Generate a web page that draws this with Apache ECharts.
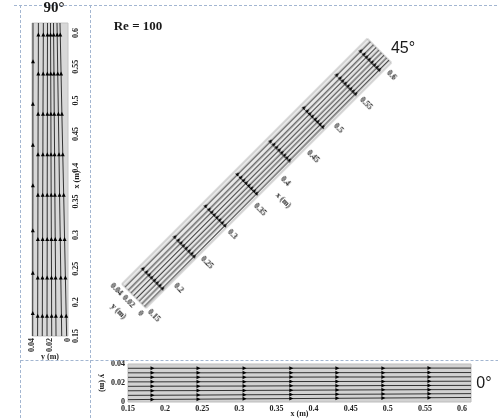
<!DOCTYPE html>
<html><head><meta charset="utf-8">
<script src="https://cdn.jsdelivr.net/npm/echarts@6/dist/echarts.min.js"></script>
<style>
html,body{margin:0;padding:0;background:#fff;width:498px;height:419px;overflow:hidden;}
#main{position:absolute;left:0;top:0;width:498px;height:419px;}
#p45{position:absolute;width:420px;height:120px;left:47px;top:113px;transform:rotate(-45deg);}
</style></head><body>
<div id="main"></div><div id="p45"></div>
<script>
// tick labels
const xTicks = [0.15,0.2,0.25,0.3,0.35,0.4,0.45,0.5,0.55,0.6];
const yTicks = [0,0.02,0.04];

// 0° panel: x stations (m) and streamline y (m)
const x0 = [0.15,0.183,0.245,0.307,0.37,0.432,0.494,0.556,0.612];
const arrows0 = [1,2,3,4,5,6,7];
const y0Lines = [
  [0.0025,0.0027,0.0030,0.0033,0.0036,0.0039,0.0042,0.0045,0.0048],
  [0.0070,0.0071,0.0073,0.0076,0.0078,0.0081,0.0083,0.0086,0.0088],
  [0.0118,0.0119,0.0120,0.0122,0.0124,0.0126,0.0128,0.0130,0.0131],
  [0.0165,0.0166,0.0167,0.0168,0.0170,0.0171,0.0173,0.0174,0.0175],
  [0.0212,0.0212,0.0213,0.0214,0.0215,0.0216,0.0217,0.0218,0.0219],
  [0.0260,0.0260,0.0261,0.0261,0.0262,0.0263,0.0263,0.0264,0.0265],
  [0.0307,0.0307,0.0307,0.0308,0.0308,0.0309,0.0309,0.0310,0.0310],
  [0.0355,0.0355,0.0355,0.0355,0.0356,0.0356,0.0356,0.0357,0.0357]
];

// 90° panel
const x90a = [0.15,0.18,0.237,0.294,0.36,0.42,0.48,0.54,0.598,0.615];
const arrows90a = [1,2,3,4,5,6,7,8];
const y90Lines = [
  [0.0015,0.0020,0.0029,0.0038,0.0048,0.0058,0.0068,0.0077,0.0086,0.0089],
  [0.0070,0.0073,0.0080,0.0086,0.0094,0.0100,0.0107,0.0114,0.0120,0.0122],
  [0.0133,0.0135,0.0138,0.0142,0.0146,0.0149,0.0153,0.0156,0.0160,0.0161],
  [0.0181,0.0182,0.0183,0.0185,0.0187,0.0189,0.0190,0.0192,0.0194,0.0194],
  [0.0233,0.0233,0.0232,0.0231,0.0231,0.0230,0.0229,0.0229,0.0228,0.0228],
  [0.0286,0.0285,0.0284,0.0282,0.0281,0.0279,0.0278,0.0276,0.0274,0.0274],
  [0.0338,0.0337,0.0336,0.0335,0.0334,0.0333,0.0332,0.0330,0.0329,0.0329]
];
const x90b = [0.15,0.184,0.244,0.307,0.374,0.434,0.495,0.558,0.615];
const arrows90b = [1,2,3,4,5,6,7];
const y90Outer = [0.0392,0.0392,0.0391,0.0391,0.0390,0.0390,0.0390,0.0389,0.0389];

// 45° panel
const x45 = [0.15,0.185,0.245,0.303,0.363,0.425,0.488,0.55,0.595,0.612];
const arrows45 = [1,2,3,4,5,6,7,8];
const y45Lines = [
  [0.0025,0.0026,0.0028,0.0030,0.0032,0.0034,0.0036,0.0038,0.0040,0.0040],
  [0.0070,0.0071,0.0072,0.0073,0.0075,0.0076,0.0078,0.0079,0.0080,0.0081],
  [0.0115,0.0115,0.0116,0.0117,0.0118,0.0119,0.0120,0.0121,0.0122,0.0122],
  [0.0160,0.0160,0.0161,0.0161,0.0162,0.0163,0.0163,0.0164,0.0165,0.0165],
  [0.0205,0.0205,0.0206,0.0206,0.0207,0.0207,0.0208,0.0208,0.0209,0.0209],
  [0.0250,0.0250,0.0250,0.0251,0.0251,0.0251,0.0252,0.0252,0.0252,0.0252],
  [0.0295,0.0295,0.0295,0.0295,0.0296,0.0296,0.0296,0.0296,0.0296,0.0296],
  [0.0350,0.0350,0.0350,0.0350,0.0350,0.0350,0.0350,0.0350,0.0350,0.0350]
];

const fmt = v => String(Math.round(v*1000)/1000);
const serif = 'Liberation Serif';
const lblStyle = {fontSize:8, fontWeight:'bold', fontFamily:serif, color:'#222'};
const lineColor = '#333333';

function streamSeries(xs, ys, arrowIdx, rot, xi, yi, swap) {
  const data = xs.map((x, i) => {
    const item = {value: swap ? [ys[i], x] : [x, ys[i]]};
    if (arrowIdx.includes(i)) {
      item.symbol = 'triangle'; item.symbolSize = [4, 4]; item.symbolRotate = rot;
    } else { item.symbol = 'none'; }
    return item;
  });
  return {type:'line', xAxisIndex:xi, yAxisIndex:yi, data, showSymbol:true, showAllSymbol:true,
    symbol:'none', lineStyle:{color:lineColor, width:1}, itemStyle:{color:'#000', borderWidth:0},
    silent:true, animation:false, z:3};
}
const hidden = {axisLine:{show:false}, axisTick:{show:false}, splitLine:{show:false}, nameMoveOverlap:false};

const series = [];
y0Lines.forEach(ys => series.push(streamSeries(x0, ys, arrows0, -90, 0, 0, false)));
y90Lines.forEach(ys => series.push(streamSeries(x90a, ys, arrows90a, 0, 1, 1, true)));
series.push(streamSeries(x90b, y90Outer, arrows90b, 0, 1, 1, true));

const dash = {stroke:'#a3b6d1', lineWidth:1, lineDash:[3,2]};
const main = echarts.init(document.getElementById('main'), null, {renderer:'canvas'});
main.setOption({
  animation:false,
  grid:[
    {left:128, top:364, width:343, height:40, show:true, backgroundColor:'#d2d2d2', borderColor:'#bdbdbd', borderWidth:1},
    {left:32, top:23, width:36, height:313, show:true, backgroundColor:'#d8d8d8', borderColor:'#c4c4c4', borderWidth:1}
  ],
  xAxis:[
    Object.assign({gridIndex:0, type:'value', min:0.15, max:0.612,
      axisLabel:Object.assign({customValues:xTicks, formatter:fmt, margin:3}, lblStyle),
      name:'x (m)', nameLocation:'middle', nameGap:8, nameTextStyle:lblStyle}, hidden),
    Object.assign({gridIndex:1, type:'value', min:0, max:0.04, inverse:true,
      axisLabel:Object.assign({customValues:yTicks, formatter:fmt, margin:2, rotate:90}, lblStyle),
      name:'y (m)', nameLocation:'middle', nameGap:17, nameTextStyle:lblStyle}, hidden)
  ],
  yAxis:[
    Object.assign({gridIndex:0, type:'value', min:0, max:0.04,
      axisLabel:Object.assign({customValues:yTicks, formatter:fmt, margin:3}, lblStyle),
      name:'y (m)', nameLocation:'middle', nameGap:22, nameRotate:-90, nameTextStyle:lblStyle}, hidden),
    Object.assign({gridIndex:1, type:'value', min:0.15, max:0.615, position:'right',
      axisLabel:Object.assign({customValues:xTicks, formatter:fmt, margin:4, rotate:90}, lblStyle),
      name:'x (m)', nameLocation:'middle', nameGap:5, nameRotate:90, nameTextStyle:lblStyle}, hidden)
  ],
  series,
  graphic:[
    {type:'line', shape:{x1:14, y1:5.5, x2:498, y2:5.5}, style:dash, z:1},
    {type:'line', shape:{x1:20.5, y1:5, x2:20.5, y2:419}, style:dash, z:1},
    {type:'line', shape:{x1:90.5, y1:5, x2:90.5, y2:419}, style:dash, z:1},
    {type:'line', shape:{x1:20.5, y1:360.5, x2:498, y2:360.5}, style:dash, z:1},
    {type:'text', x:54, y:8, style:{text:'90°', font:'bold 15px "Liberation Serif"', fill:'#1a1a1a', align:'center', verticalAlign:'middle'}, z:5},
    {type:'text', x:138, y:27, style:{text:'Re = 100', font:'bold 13px "Liberation Serif"', fill:'#1a1a1a', align:'center', verticalAlign:'middle'}, z:5},
    {type:'text', x:403, y:49, style:{text:'45°', font:'16px "Liberation Sans"', fill:'#1a1a1a', align:'center', verticalAlign:'middle'}, z:5},
    {type:'text', x:484, y:384, style:{text:'0°', font:'16px "Liberation Sans"', fill:'#1a1a1a', align:'center', verticalAlign:'middle'}, z:5}
  ]
});

// 45° panel: same kind of chart, rotated as a whole
const s45 = [];
y45Lines.forEach(ys => s45.push(streamSeries(x45, ys, arrows45, -90, 0, 0, false)));
const p45 = echarts.init(document.getElementById('p45'), null, {renderer:'canvas'});
p45.setOption({
  animation:false,
  grid:{left:36, top:43, width:347, height:34, show:true, backgroundColor:'#e8e8e8', borderColor:'#b5b5b5', borderWidth:1},
  xAxis:Object.assign({type:'value', min:0.15, max:0.612,
    axisLabel:Object.assign({customValues:xTicks, formatter:fmt, margin:4, rotate:-90}, lblStyle),
    name:'x (m)', nameLocation:'middle', nameGap:12, nameRotate:-90, nameTextStyle:lblStyle}, hidden),
  yAxis:Object.assign({type:'value', min:0, max:0.04,
    axisLabel:Object.assign({customValues:yTicks, formatter:fmt, margin:4, rotate:-90}, lblStyle),
    name:'y (m)', nameLocation:'middle', nameGap:18, nameRotate:-90, nameTextStyle:lblStyle}, hidden),
  series:s45
});
</script>
</body></html>
